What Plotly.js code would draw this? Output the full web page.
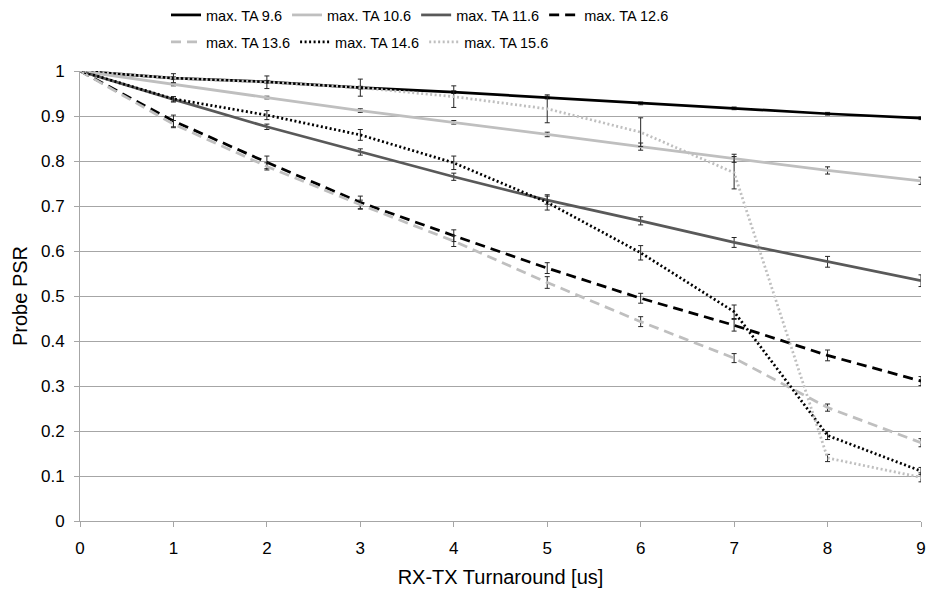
<!DOCTYPE html>
<html>
<head>
<meta charset="utf-8">
<script src="https://cdn.plot.ly/plotly-3.0.1.min.js"></script>
<style>
  html, body { margin: 0; padding: 0; background: #ffffff; }
  #chart { width: 928px; height: 595px; }
</style>
</head>
<body>
<div id="chart"></div>
<script>
// RX-TX turnaround time in microseconds
const turnaround = [0, 1, 2, 3, 4, 5, 6, 7, 8, 9];

// Series labels
const seriesNames = ['max. TA 9.6', 'max. TA 10.6', 'max. TA 11.6', 'max. TA 12.6',
                     'max. TA 13.6', 'max. TA 14.6', 'max. TA 15.6'];

// Probe PSR per series, with error-bar half lengths
const psr96  = [1, 0.984, 0.976, 0.963, 0.953, 0.941, 0.928, 0.917, 0.905, 0.895];
const err96  = [0, 0.003, 0.003, 0.003, 0.003, 0.003, 0.003, 0.003, 0.003, 0.003];

const psr106 = [1, 0.970, 0.941, 0.912, 0.886, 0.859, 0.832, 0.806, 0.779, 0.756];
const err106 = [0, 0.003, 0.003, 0.004, 0.004, 0.005, 0.008, 0.009, 0.008, 0.008];

const psr116 = [1, 0.937, 0.876, 0.820, 0.765, 0.713, 0.667, 0.619, 0.576, 0.534];
const err116 = [0, 0.006, 0.006, 0.007, 0.008, 0.009, 0.009, 0.011, 0.012, 0.013];

const psr126 = [1, 0.889, 0.797, 0.708, 0.634, 0.562, 0.495, 0.435, 0.368, 0.311];
const err126 = [0, 0.013, 0.014, 0.014, 0.013, 0.012, 0.011, 0.013, 0.012, 0.010];

const psr136 = [1, 0.882, 0.788, 0.703, 0.622, 0.530, 0.443, 0.362, 0.252, 0.174];
const err136 = [0, 0.008, 0.008, 0.010, 0.012, 0.013, 0.011, 0.010, 0.008, 0.009];

const psr146 = [1, 0.938, 0.902, 0.858, 0.796, 0.708, 0.596, 0.465, 0.190, 0.111];
const err146 = [0, 0.005, 0.010, 0.012, 0.015, 0.017, 0.016, 0.015, 0.009, 0.008];

const psr156 = [1, 0.984, 0.975, 0.963, 0.943, 0.916, 0.864, 0.774, 0.140, 0.097];
const err156 = [0, 0.010, 0.014, 0.019, 0.024, 0.031, 0.032, 0.036, 0.008, 0.010];

const FONT = 'Liberation Sans, Arial, sans-serif';
const BLACK = '#000000';
const LIGHT = '#bfbfbf';
const DARK = '#595959';
const DASH = '10px,6px';
const DOT = '2px,2.5px';

function series(name, y, err, color, dash, legendId) {
  return {
    type: 'scatter',
    mode: 'lines',
    x: turnaround,
    y: y,
    name: name,
    legend: legendId,
    cliponaxis: false,
    line: { color: color, width: 2.75, dash: dash },
    error_y: { type: 'data', array: err, visible: true, color: '#262626', thickness: 1, width: 2.5 },
    hoverinfo: 'x+y+name'
  };
}

const traces = [
  series(seriesNames[0], psr96,  err96,  BLACK, 'solid', 'legend'),
  series(seriesNames[1], psr106, err106, LIGHT, 'solid', 'legend'),
  series(seriesNames[2], psr116, err116, DARK,  'solid', 'legend'),
  series(seriesNames[3], psr126, err126, BLACK, DASH,    'legend'),
  series(seriesNames[4], psr136, err136, LIGHT, DASH,    'legend2'),
  series(seriesNames[5], psr146, err146, BLACK, DOT,     'legend2'),
  series(seriesNames[6], psr156, err156, LIGHT, DOT,     'legend2')
];

const legendBase = {
  orientation: 'h',
  xref: 'container', yref: 'container',
  xanchor: 'left', yanchor: 'middle',
  x: 166 / 928,
  font: { family: FONT, size: 14.5, color: '#000000' },
  bgcolor: 'rgba(0,0,0,0)',
  itemwidth: 30,
  tracegroupgap: 0
};

const layout = {
  width: 928,
  height: 595,
  paper_bgcolor: '#ffffff',
  plot_bgcolor: '#ffffff',
  margin: { l: 80, r: 7, t: 71, b: 74 },
  font: { family: FONT, size: 16, color: '#000000' },
  legend: Object.assign({}, legendBase, { y: 1 - 15 / 595 }),
  legend2: Object.assign({}, legendBase, { y: 1 - 42 / 595 }),
  xaxis: {
    range: [0, 9],
    tickvals: turnaround,
    showgrid: false,
    zeroline: false,
    showline: true,
    linecolor: '#a6a6a6',
    linewidth: 1,
    ticks: 'outside',
    ticklen: 5,
    tickcolor: '#a6a6a6',
    ticklabelstandoff: 7,
    tickfont: { family: FONT, size: 17 },
    title: { text: 'RX-TX Turnaround [us]', font: { family: FONT, size: 20 }, standoff: 12 }
  },
  yaxis: {
    range: [0, 1],
    dtick: 0.1,
    showgrid: true,
    gridcolor: '#a6a6a6',
    gridwidth: 1,
    zeroline: false,
    showline: true,
    linecolor: '#a6a6a6',
    linewidth: 1,
    ticks: 'outside',
    ticklen: 5,
    tickcolor: '#a6a6a6',
    ticklabelstandoff: 6,
    tickfont: { family: FONT, size: 17 },
    title: { text: 'Probe PSR', font: { family: FONT, size: 20 }, standoff: 7 }
  },
  showlegend: true
};

Plotly.newPlot('chart', traces, layout, { displayModeBar: false, staticPlot: true });
</script>
</body>
</html>
